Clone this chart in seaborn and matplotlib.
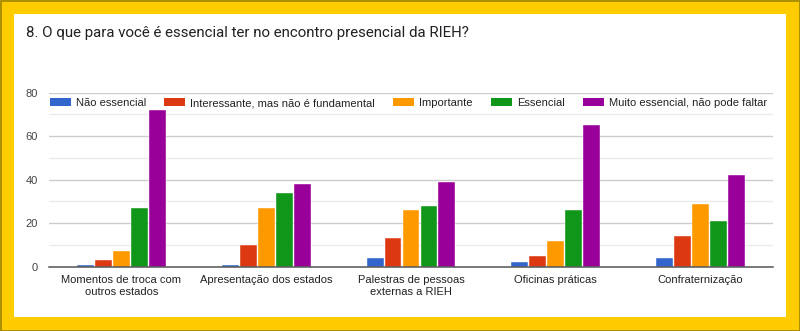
import matplotlib
matplotlib.use("Agg")
import matplotlib.pyplot as plt
from matplotlib.patches import Patch, Rectangle
import seaborn as sns
import pandas as pd

categories = [
    "Momentos de troca com\noutros estados",
    "Apresentação dos estados",
    "Palestras de pessoas\nexternas a RIEH",
    "Oficinas práticas",
    "Confraternização",
]
series = [
    "Não essencial",
    "Interessante, mas não é fundamental",
    "Importante",
    "Essencial",
    "Muito essencial, não pode faltar",
]
nao_essencial = [1, 1, 4, 2, 4]
interessante = [3, 10, 13, 5, 14]
importante = [7, 27, 26, 12, 29]
essencial = [27, 34, 28, 26, 21]
muito_essencial = [72, 38, 39, 65, 42]
yticks_major = [0, 20, 40, 60, 80]
yticks_minor = [10, 30, 50, 70]
title = "8. O que para você é essencial ter no encontro presencial da RIEH?"
colors = ["#3366cc", "#dc3912", "#ff9900", "#109618", "#990099"]

values = [nao_essencial, interessante, importante, essencial, muito_essencial]
rows = []
for s, vals in zip(series, values):
    for c, v in zip(categories, vals):
        rows.append({"categoria": c, "serie": s, "valor": v})
df = pd.DataFrame(rows)

sns.set_theme(style="white")
plt.rcParams["font.family"] = ["Liberation Sans", "DejaVu Sans"]

W, H = 800, 331
fig = plt.figure(figsize=(W / 100, H / 100), dpi=100)
fig.patch.set_facecolor("#ffcc00")
# white panel
fig.patches.append(Rectangle((14 / W, 1 - 317 / H), (786 - 14) / W, (317 - 14) / H,
                             transform=fig.transFigure, facecolor="white",
                             edgecolor="none", zorder=-10))
# thin dark outer border
fig.patches.append(Rectangle((0.5 / W, 0.5 / H), 1 - 1 / W, 1 - 1 / H,
                             transform=fig.transFigure, facecolor="none",
                             edgecolor="#9c8500", linewidth=1.2, zorder=10))

left, right = 49 / W, 773 / W
bottom, top = 1 - 266.7 / H, 1 - 92.7 / H
ax = fig.add_axes([left, bottom, right - left, top - bottom])
ax.set_facecolor("none")

sns.barplot(data=df, x="categoria", y="valor", hue="serie", order=categories,
            hue_order=series, palette=colors, width=0.62, gap=0.06,
            saturation=1, edgecolor="#ffffff", linewidth=0.3, legend=False,
            ax=ax, zorder=3)

ax.set_xlim(-0.5, len(categories) - 0.5)
ax.set_ylim(0, 80)
ax.set_yticks(yticks_major)
ax.set_yticks(yticks_minor, minor=True)
ax.grid(axis="y", which="major", color="#cccccc", linewidth=1, zorder=0)
ax.grid(axis="y", which="minor", color="#ebebeb", linewidth=1, zorder=0)
ax.set_axisbelow(True)
for sp in ["top", "right", "left"]:
    ax.spines[sp].set_visible(False)
ax.spines["bottom"].set_color("#555555")
ax.spines["bottom"].set_linewidth(1.1)
ax.spines["bottom"].set_zorder(5)
ax.set_xlabel("")
ax.set_ylabel("")
ax.tick_params(axis="y", which="both", length=0, pad=8, labelsize=8, labelcolor="#444444")
ax.tick_params(axis="x", length=0, pad=6, labelsize=8, labelcolor="#222222")
for lab in ax.get_xticklabels():
    lab.set_linespacing(1.3)

handles = [Patch(facecolor=c, edgecolor="none") for c in colors]
fig.legend(handles, series, loc="center left", bbox_to_anchor=(50 / W, 1 - 103 / H),
           ncol=5, frameon=False, fontsize=8, handlelength=1.9, handleheight=0.8,
           handletextpad=0.45, columnspacing=1.62, borderpad=0, borderaxespad=0,
           labelcolor="#222222")

fig.text(26 / W, 1 - 33 / H, title, fontsize=10.8, family=["Roboto", "DejaVu Sans"],
         color="#202124", va="center", ha="left")

fig.savefig("out.png", dpi=100, facecolor=fig.get_facecolor())
